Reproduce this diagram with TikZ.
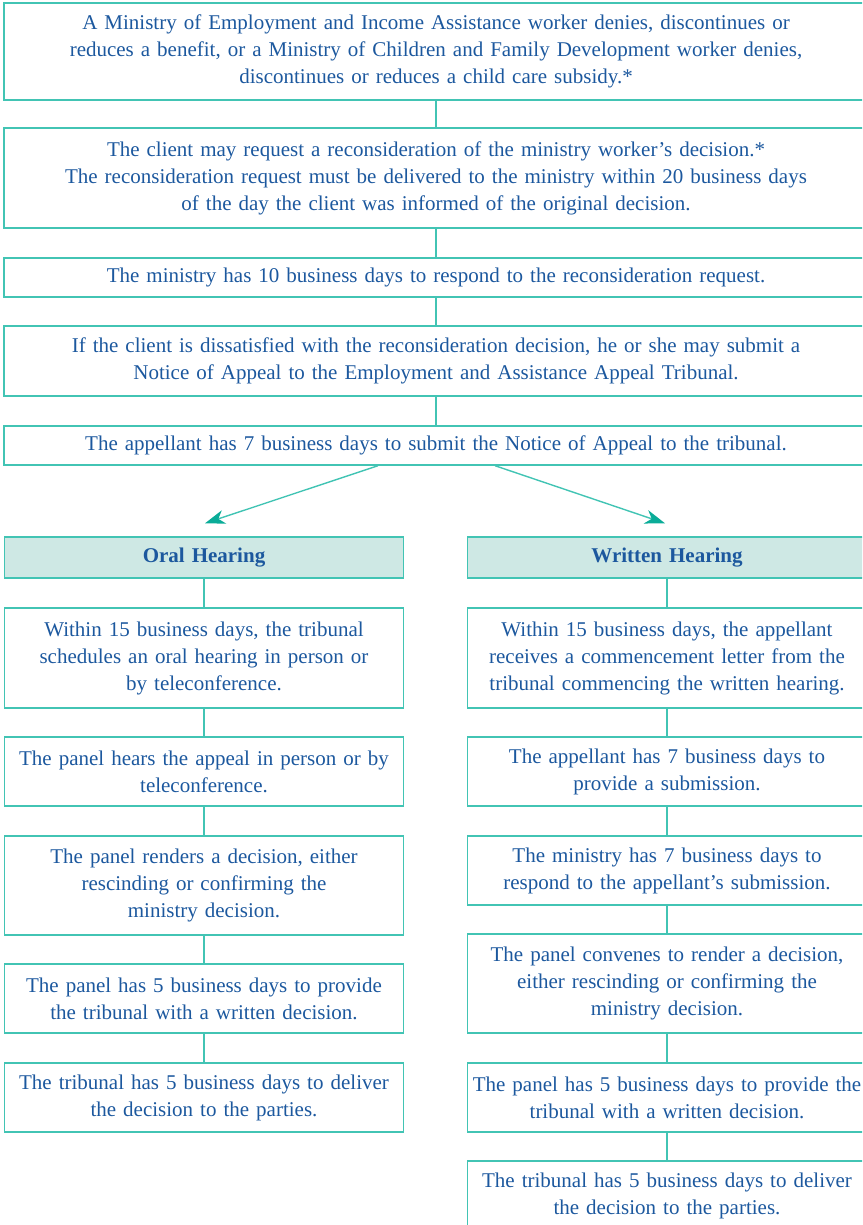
\documentclass[tikz,border=0pt]{standalone}
\usepackage{fontspec}
\setmainfont{Liberation Serif}
\usetikzlibrary{arrows.meta,calc}

\definecolor{edgeteal}{RGB}{66,196,180}
\definecolor{tipteal}{RGB}{10,172,152}
\definecolor{inkblue}{RGB}{28,88,158}
\definecolor{headfill}{RGB}{206,232,228}

\begin{document}
\begin{tikzpicture}[x=1pt,y=-1pt,
  stepbox/.style={draw=edgeteal,line width=1.4pt,inner sep=0pt,align=center,
    text=inkblue,font=\fontsize{21}{27}\selectfont},
  widebox/.style={stepbox,minimum width=864pt,text width=856pt},
  colbox/.style={stepbox,minimum width=399pt,text width=397pt},
  headbox/.style={colbox,fill=headfill,minimum height=41pt,font=\fontsize{21}{27}\selectfont\bfseries},
  link/.style={draw=edgeteal,line width=1.4pt},
  >={Stealth[length=20pt,width=14pt,inset=6pt,color=tipteal]}]

\path[use as bounding box] (0,0) rectangle (862,1225);
\clip (0,0) rectangle (862,1225);

\def\lx{204}
\def\rx{667}

\node[widebox,minimum height=97pt] (deny) at (436,51.5)
  {A Ministry of Employment and Income Assistance worker denies, discontinues or\\
   reduces a benefit, or a Ministry of Children and Family Development worker denies,\\
   discontinues or reduces a child care subsidy.*};
\node[widebox,minimum height=100pt] (recon) at (436,178)
  {The client may request a reconsideration of the ministry worker's decision.*\\
   The reconsideration request must be delivered to the ministry within 20 business days\\
   of the day the client was informed of the original decision.};
\node[widebox,minimum height=39pt] (respond) at (436,277.5)
  {The ministry has 10 business days to respond to the reconsideration request.};
\node[widebox,minimum height=70pt] (notice) at (436,361)
  {If the client is dissatisfied with the reconsideration decision, he or she may submit a\\
   Notice of Appeal to the Employment and Assistance Appeal Tribunal.};
\node[widebox,minimum height=39pt] (submit) at (436,445.5)
  {The appellant has 7 business days to submit the Notice of Appeal to the tribunal.};

\node[headbox] (oral) at (\lx,557.5) {Oral Hearing};
\node[headbox] (written) at (\rx,557.5) {Written Hearing};

\node[colbox,minimum height=100pt] (oral1) at (\lx,658)
  {Within 15 business days, the tribunal\\ schedules an oral hearing in person or\\ by teleconference.};
\node[colbox,minimum height=69pt] (oral2) at (\lx,771.5)
  {The panel hears the appeal in person or by\\ teleconference.};
\node[colbox,minimum height=99pt] (oral3) at (\lx,885.5)
  {The panel renders a decision, either\\ rescinding or confirming the\\ ministry decision.};
\node[colbox,minimum height=69pt] (oral4) at (\lx,998.5)
  {The panel has 5 business days to provide\\ the tribunal with a written decision.};
\node[colbox,minimum height=69pt] (oral5) at (\lx,1097.5)
  {The tribunal has 5 business days to deliver\\ the decision to the parties.};

\node[colbox,minimum height=100pt] (writ1) at (\rx,658)
  {Within 15 business days, the appellant\\ receives a commencement letter from the\\ tribunal commencing the written hearing.};
\node[colbox,minimum height=69pt] (writ2) at (\rx,771.5)
  {The appellant has 7 business days to\\ provide a submission.};
\node[colbox,minimum height=69pt] (writ3) at (\rx,870.5)
  {The ministry has 7 business days to\\ respond to the appellant's submission.};
\node[colbox,minimum height=99pt] (writ4) at (\rx,983.5)
  {The panel convenes to render a decision,\\ either rescinding or confirming the\\ ministry decision.};
\node[colbox,minimum height=69pt] (writ5) at (\rx,1097.5)
  {The panel has 5 business days to provide the\\ tribunal with a written decision.};
\node[colbox,minimum height=69pt] (writ6) at (\rx,1195.5)
  {The tribunal has 5 business days to deliver\\ the decision to the parties.};

\draw[link] (deny) -- (recon);
\draw[link] (recon) -- (respond);
\draw[link] (respond) -- (notice);
\draw[link] (notice) -- (submit);

\draw[link,->] ([xshift=-58pt]submit.south) -- ([xshift=1pt,yshift=13pt]oral.north);
\draw[link,->] ([xshift=59pt]submit.south) -- ([xshift=-2pt,yshift=13pt]written.north);

\draw[link] (oral) -- (oral1);
\draw[link] (oral1) -- (oral2);
\draw[link] (oral2) -- (oral3);
\draw[link] (oral3) -- (oral4);
\draw[link] (oral4) -- (oral5);

\draw[link] (written) -- (writ1);
\draw[link] (writ1) -- (writ2);
\draw[link] (writ2) -- (writ3);
\draw[link] (writ3) -- (writ4);
\draw[link] (writ4) -- (writ5);
\draw[link] (writ5) -- (writ6);

\end{tikzpicture}
\end{document}
